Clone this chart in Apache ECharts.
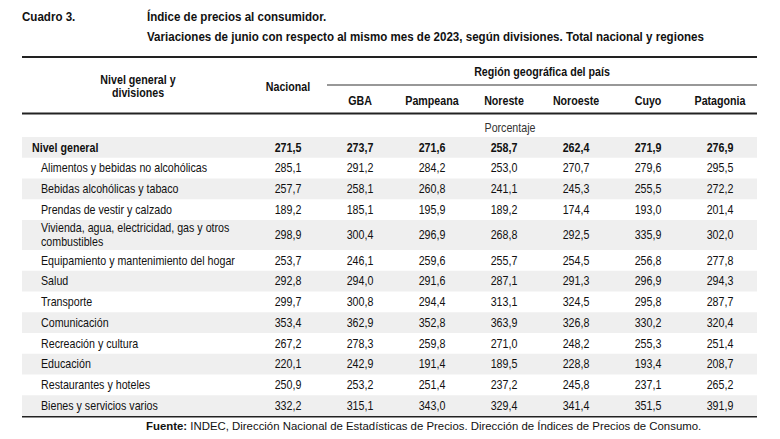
<!DOCTYPE html>
<html>
<head>
<meta charset="utf-8">
<title>Cuadro 3</title>
<script src="https://cdn.jsdelivr.net/npm/echarts@6/dist/echarts.min.js"></script>
<style>
    html, body { margin: 0; padding: 0; background: #fff; }
    #main { width: 780px; height: 439px; }
</style>
</head>
<body>
<div id="main"></div>
<script>
// filas de la tabla
var divisiones = [
    'Nivel general',
    'Alimentos y bebidas no alcohólicas',
    'Bebidas alcohólicas y tabaco',
    'Prendas de vestir y calzado',
    'Vivienda, agua, electricidad, gas y otros\ncombustibles',
    'Equipamiento y mantenimiento del hogar',
    'Salud',
    'Transporte',
    'Comunicación',
    'Recreación y cultura',
    'Educación',
    'Restaurantes y hoteles',
    'Bienes y servicios varios'
];
var columnas = ['Nacional', 'GBA', 'Pampeana', 'Noreste', 'Noroeste', 'Cuyo', 'Patagonia'];

// variación % junio 2024 vs junio 2023
var nacional  = [271.5, 285.1, 257.7, 189.2, 298.9, 253.7, 292.8, 299.7, 353.4, 267.2, 220.1, 250.9, 332.2];
var gba       = [273.7, 291.2, 258.1, 185.1, 300.4, 246.1, 294.0, 300.8, 362.9, 278.3, 242.9, 253.2, 315.1];
var pampeana  = [271.6, 284.2, 260.8, 195.9, 296.9, 259.6, 291.6, 294.4, 352.8, 259.8, 191.4, 251.4, 343.0];
var noreste   = [258.7, 253.0, 241.1, 189.2, 268.8, 255.7, 287.1, 313.1, 363.9, 271.0, 189.5, 237.2, 329.4];
var noroeste  = [262.4, 270.7, 245.3, 174.4, 292.5, 254.5, 291.3, 324.5, 326.8, 248.2, 228.8, 245.8, 341.4];
var cuyo      = [271.9, 279.6, 255.5, 193.0, 335.9, 256.8, 296.9, 295.8, 330.2, 255.3, 193.4, 237.1, 351.5];
var patagonia = [276.9, 295.5, 272.2, 201.4, 302.0, 277.8, 294.3, 287.7, 320.4, 251.4, 208.7, 265.2, 391.9];

var tabla = [nacional, gba, pampeana, noreste, noroeste, cuyo, patagonia];

// Arial Narrow no está: Liberation Sans comprimida en x
var SANS = '"Liberation Sans", Arial, sans-serif';
var NARROW = 0.89;

function texto(x, y, t, o) {
    o = o || {};
    return {
        type: 'text',
        x: x,
        y: y,
        scaleX: o.scale || NARROW,
        style: {
            x: 0,
            y: 0,
            text: t,
            fontFamily: SANS,
            fontSize: o.size || 12,
            lineHeight: o.lh || 14,
            fontWeight: o.bold ? 'bold' : 'normal',
            fill: o.color || '#111',
            align: o.align || 'left',
            verticalAlign: 'middle',
            rich: o.rich
        }
    };
}

// alto de cada fila según cantidad de renglones
var inicio = [], alto = [], centro = [];
var acum = 0;
divisiones.forEach(function (d) {
    var h = 1 + 0.45 * (d.split('\n').length - 1);
    inicio.push(acum);
    alto.push(h);
    centro.push(acum + h / 2);
    acum += h;
});

var filas = divisiones.map(function (d, i) {
    return [0, inicio[i], inicio[i] + alto[i], i];
});
var celdas = [];
tabla.forEach(function (col, c) {
    col.forEach(function (v, r) {
        celdas.push([c, centro[r], v, r]);
    });
});
var encabezados = columnas.map(function (c, i) { return [i, 0]; });

function fmt(v) {
    return v.toFixed(1).replace('.', ',');
}

var myChart = echarts.init(document.getElementById('main'), null, {renderer: 'svg'});

var option = {
    animation: false,
    grid: {left: 252, right: 24, top: 137, bottom: 23},
    xAxis: {type: 'category', data: columnas, show: false},
    yAxis: {type: 'value', inverse: true, min: 0, max: acum, show: false},
    series: [
        {
            // franjas y nombres de las divisiones
            type: 'custom',
            data: filas,
            renderItem: function (params, api) {
                var cs = params.coordSys;
                var r = api.value(3);
                var top = api.coord([0, api.value(1)])[1];
                var bottom = api.coord([0, api.value(2)])[1];
                var children = [];
                if (r % 2 === 0) {
                    children.push({
                        type: 'rect',
                        shape: {x: cs.x - 230, y: top, width: cs.width + 231, height: bottom - top},
                        style: {fill: '#efefef'}
                    });
                }
                children.push(texto(cs.x - 220 + (r === 0 ? 0 : 9), (top + bottom) / 2, divisiones[r], {bold: r === 0}));
                return {type: 'group', children: children};
            }
        },
        {
            // encabezados de columna
            type: 'custom',
            data: encabezados,
            renderItem: function (params, api) {
                var cs = params.coordSys;
                var i = api.value(0);
                var x = api.coord([i, 0])[0];
                return texto(x, cs.y - (i === 0 ? 50 : 36), columnas[i], {bold: true, align: 'center'});
            }
        },
        {
            // valores
            type: 'custom',
            data: celdas,
            renderItem: function (params, api) {
                var p = api.coord([api.value(0), api.value(1)]);
                return texto(p[0], p[1], fmt(api.value(2)), {bold: api.value(3) === 0, align: 'center'});
            }
        }
    ],
    graphic: [
        texto(22, 17, 'Cuadro 3.', {size: 13, bold: true}),
        texto(147, 17, 'Índice de precios al consumidor.', {size: 13, bold: true}),
        texto(147, 37, 'Variaciones de junio con respecto al mismo mes de 2023, según divisiones. Total nacional y regiones', {size: 13, bold: true}),
        {type: 'line', shape: {x1: 22, y1: 57, x2: 757, y2: 57}, style: {stroke: '#222', lineWidth: 2}},
        {type: 'line', shape: {x1: 327, y1: 85, x2: 757, y2: 85}, style: {stroke: '#333', lineWidth: 1.2}},
        {type: 'line', shape: {x1: 22, y1: 113.5, x2: 757, y2: 113.5}, style: {stroke: '#222', lineWidth: 2}},
        {type: 'line', shape: {x1: 22, y1: 416.5, x2: 757, y2: 416.5}, style: {stroke: '#222', lineWidth: 2}},
        texto(138, 86.5, 'Nivel general y\ndivisiones', {bold: true, align: 'center', lh: 13}),
        texto(542, 72, 'Región geográfica del país', {bold: true, align: 'center'}),
        texto(510, 128, 'Porcentaje', {align: 'center', color: '#333'}),
        texto(146, 426, '{b|Fuente:} INDEC, Dirección Nacional de Estadísticas de Precios. Dirección de Índices de Precios de Consumo.', {
            size: 11.4, scale: 1,
            rich: {b: {fontFamily: SANS, fontSize: 11.4, fontWeight: 'bold', fill: '#111'}}
        })
    ]
};

myChart.setOption(option);
</script>
</body>
</html>
